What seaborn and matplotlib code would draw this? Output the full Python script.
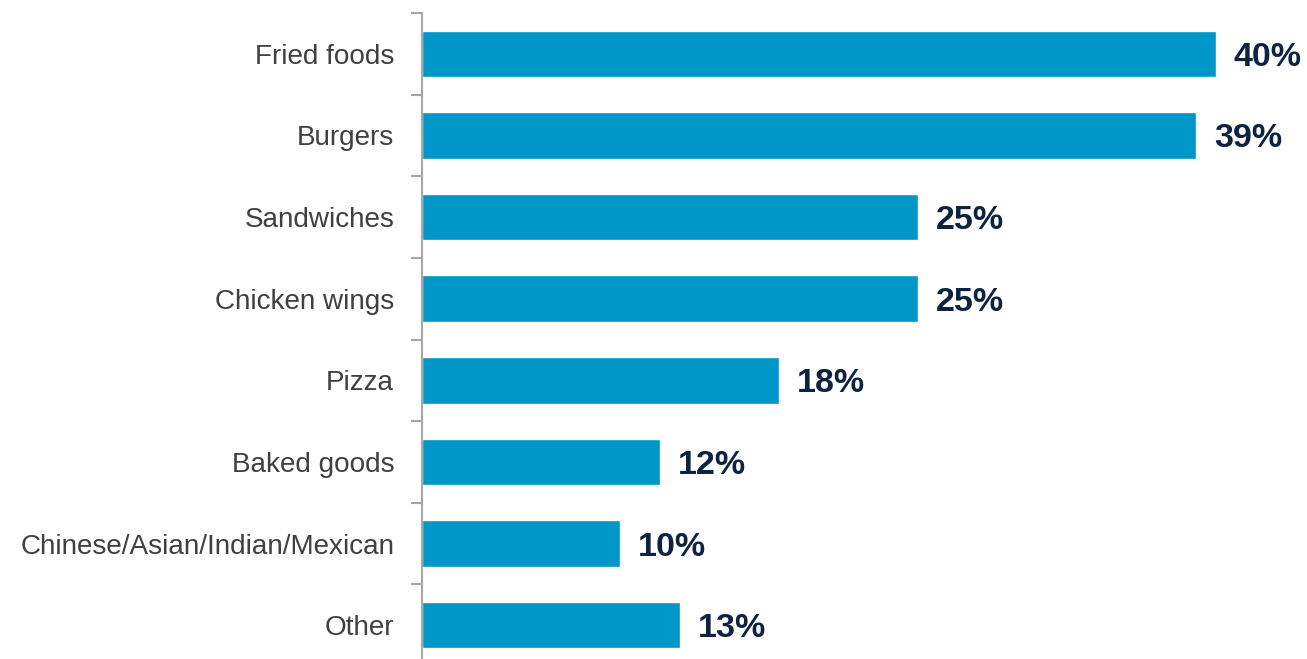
import matplotlib
matplotlib.use("Agg")
import matplotlib.pyplot as plt
import seaborn as sns
import pandas as pd
import numpy as np

categories = ["Fried foods", "Burgers", "Sandwiches", "Chicken wings",
              "Pizza", "Baked goods", "Chinese/Asian/Indian/Mexican", "Other"]
shares = [40, 39, 25, 25, 18, 12, 10, 13]
value_labels = ["40%", "39%", "25%", "25%", "18%", "12%", "10%", "13%"]

sns.set_theme(style="white")
plt.rcParams["font.family"] = ["Liberation Sans", "DejaVu Sans"]

df = pd.DataFrame({"category": categories, "share": shares})

fig = plt.figure(figsize=(13.07, 6.59), dpi=100)
ax = fig.add_axes([422 / 1307, -7 / 659, 885 / 1307, 653 / 659])

sns.barplot(data=df, y="category", x="share", order=categories,
            color="#0096C8", saturation=1, width=0.57, ax=ax)

ax.set_xlim(0, 44.6)
ax.set_ylim(len(categories) - 0.5, -0.5)
ax.set_xlabel("")
ax.set_ylabel("")
ax.set_xticks([])

# value labels just past the end of each bar
for i, (v, lab) in enumerate(zip(shares, value_labels)):
    ax.text(v + 0.9, i, lab, va="center_baseline", ha="left", fontsize=24.5,
            fontweight="bold", color="#0E2341")

for s in ["top", "right", "bottom"]:
    ax.spines[s].set_visible(False)
ax.spines["left"].set_color("#A6A6A6")
ax.spines["left"].set_linewidth(1.5)

# category names centred on bars; short ticks between categories
ax.set_yticks(range(len(categories)))
ax.set_yticklabels(categories, fontsize=20.1, color="#404040")
ax.tick_params(axis="y", which="major", length=0, pad=20)
ax.set_yticks(np.arange(len(categories) + 1) - 0.5, minor=True)
ax.tick_params(axis="y", which="minor", length=8, width=1.5, color="#A6A6A6", left=True)

fig.savefig("out.png", dpi=100)
